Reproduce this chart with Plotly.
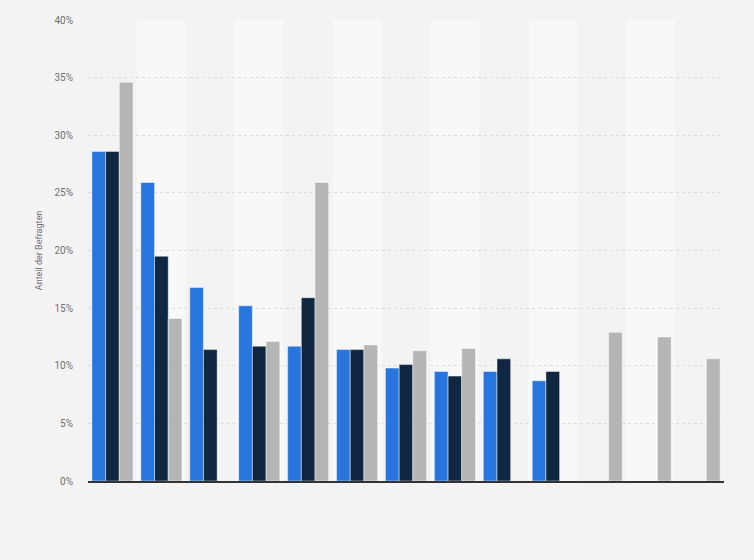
import plotly.graph_objects as go

# 13 unlabeled categories, three survey series (values in %)
categories = [str(i) for i in range(1, 14)]
series_a = [28.6, 25.9, 16.8, 15.2, 11.7, 11.4, 9.8, 9.5, 9.5, 8.7, None, None, None]
series_b = [28.6, 19.5, 11.4, 11.7, 15.9, 11.4, 10.1, 9.1, 10.6, 9.5, None, None, None]
series_c = [34.6, 14.1, None, 12.1, 25.9, 11.8, 11.3, 11.5, None, None, 12.9, 12.5, 10.6]
y_ticks = [0, 5, 10, 15, 20, 25, 30, 35, 40]

colors = ["#2876dd", "#0f2741", "#b5b5b5"]

fig = go.Figure()
for vals, col, name in zip([series_a, series_b, series_c], colors, ["A", "B", "C"]):
    fig.add_trace(go.Bar(
        x=categories, y=vals, name=name,
        marker=dict(color=col, line=dict(color="rgba(255,255,255,0.45)", width=1)),
    ))

# alternating background bands per category
for i, c in enumerate(categories):
    if i % 2 == 1:
        fig.add_vrect(x0=i - 0.5, x1=i + 0.5, fillcolor="#f8f8f8", line_width=0, layer="below")

fig.update_layout(
    width=754, height=560,
    margin=dict(l=88, r=30, t=20, b=79),
    paper_bgcolor="#f3f3f3", plot_bgcolor="#f3f3f3",
    barmode="group", bargap=0.16, bargroupgap=0,
    showlegend=False,
    font=dict(family="Roboto, Arial, sans-serif", size=10, color="#707070"),
    xaxis=dict(
        showticklabels=False, showgrid=False, zeroline=False,
        showline=True, linecolor="#333333", linewidth=1.5,
        range=[-0.5, len(categories) - 0.5],
    ),
    yaxis=dict(
        range=[0, 40], tickvals=y_ticks, ticktext=[f"{v}%" for v in y_ticks],
        showgrid=True, gridcolor="#dcdcdc", griddash="dot", gridwidth=1,
        zeroline=False, ticks="", ticklabelstandoff=14,
        title=dict(text="Anteil der Befragten", font=dict(size=9, color="#707070"), standoff=10),
    ),
)

fig.write_html("out.html", config={"displayModeBar": False},
               post_script="document.body.style.margin='0';")
